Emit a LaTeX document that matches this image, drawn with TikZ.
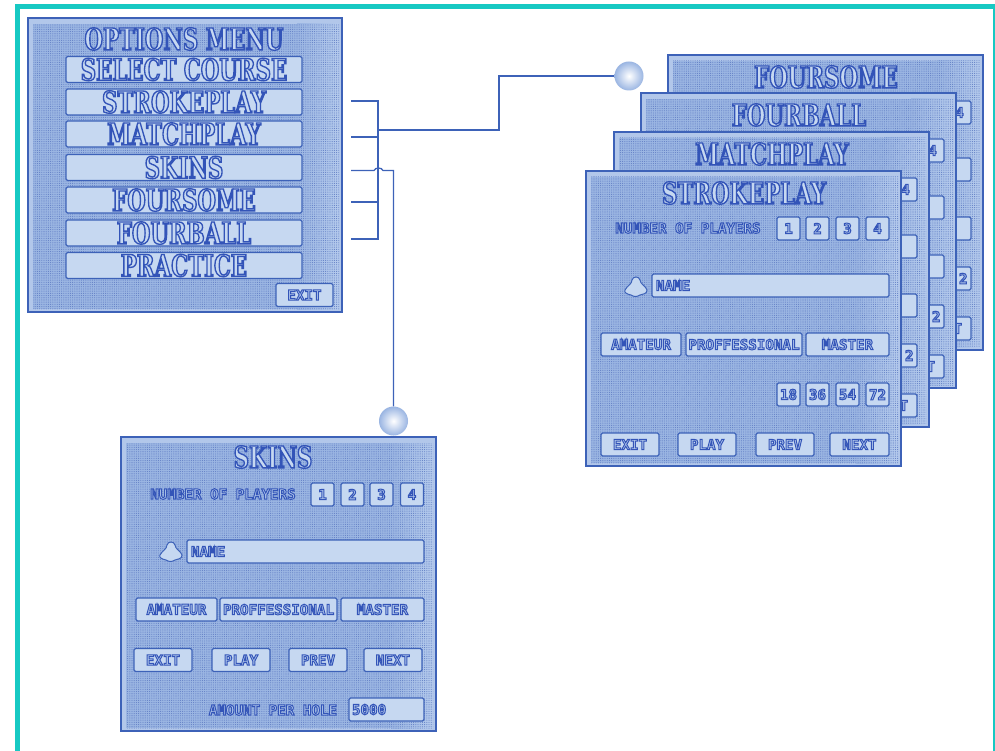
\documentclass[tikz,border=0pt]{standalone}
\usepackage{fontspec}
\usepackage{xcolor}
\newfontfamily\displayfont[FakeBold=4.5,FakeStretch=0.71]{DejaVu Serif Bold}
\newfontfamily\pixelfont[FakeBold=7]{DejaVu Sans Mono Bold}
\usetikzlibrary{arrows.meta, positioning, calc, patterns.meta}

\definecolor{framecyan}{HTML}{17C9C3}
\definecolor{inkblue}{HTML}{3D62B8}
\definecolor{sheetblue}{HTML}{9AB5E2}
\definecolor{sheetpale}{HTML}{B4CAEC}
\definecolor{bevelblue}{HTML}{B2C7EA}
\definecolor{keyblue}{HTML}{C6D8F1}

\tikzset{
    rim/.style={execute at begin node={\color{keyblue}\special{pdf:code 0.2 0.33 0.72 RG}}},
    rimsmall/.style={execute at begin node={\color{sheetpale}\special{pdf:code 0.2 0.33 0.72 RG}}},
    display/.style={inner sep=0pt, rim, font=\displayfont\fontsize{30}{30}\selectfont},
    small/.style={inner sep=0pt, rimsmall, font=\pixelfont\fontsize{14.2}{14}\selectfont},
    key/.style={small, draw=inkblue, fill=keyblue, line width=1.1pt, rounded corners=1.5pt,
        minimum height=23, anchor=center},
    numkey/.style={key, minimum width=23},
    namekey/.style={key, minimum width=237, text width=229, align=left},
    menukey/.style={key, display, minimum width=236, minimum height=26},
    wire/.style={draw=inkblue, line width=1.3pt},
    ball/.style={circle, minimum size=29, inner sep=0pt, inner color=white, outer color=sheetblue},
    bell/.pic={
        \draw[line width=1pt, draw=inkblue, fill=keyblue] (-4,-7) .. controls (-3,-11) and (3,-11) .. (4,-7)
            .. controls (4,-3) and (10,-1) .. (11,3) .. controls (11,7) and (7,7) .. (4,8)
            .. controls (1,10) and (-2,10) .. (-5,8) .. controls (-9,7) and (-12,6) .. (-11,3)
            .. controls (-9,-1) and (-4,-3) .. (-4,-7);
    }
}

\newcommand{\sheetback}[2]{
    \fill[bevelblue] (0,0) rectangle (#1,#2);
    \fill[sheetblue] (5,6) rectangle (#1-3,#2-3);
    \shade[left color=sheetblue, right color=sheetpale] (#1-45,6) rectangle (#1-3,#2-3);
    \fill[pattern={Dots[distance=2.2pt, radius=0.55pt]}, pattern color=inkblue!80] (5,6) rectangle (#1-3,#2-3);
    \draw[inkblue, line width=1.2pt] (0,0) rectangle (#1,#2);
}

\newcommand{\backsheet}[4]{
    \begin{scope}[shift={(#2,#3)}]
    \sheetback{315}{295}
    \node[display] (#1title) at (158,22) {#4};
    \node[numkey] (#1d) at (291.5,57.5) {4};
    \node[namekey] (#1name) at (184.5,114.5) {};
    \node[key, minimum width=83] (#1master) at (261.5,173.5) {};
    \node[numkey, text width=16, align=right] (#1k) at (291.5,223.5) {2};
    \node[key, minimum width=59, text width=41, align=right] (#1next) at (273.5,273.5) {T};
    \end{scope}
}

\begin{document}
\begin{tikzpicture}[x=1pt, y=-1pt]
    \useasboundingbox (0,0) rectangle (995,751);
    \fill[white] (0,0) rectangle (995,751);
    \draw[framecyan, line width=4.5pt] (17.5,751) |- (995,6.5);
    \draw[framecyan, line width=4.5pt] (995,6.5) -- (995,751);

    \begin{scope}[shift={(28,18)}]
    \sheetback{314}{294}
    \node[display] (menutitle) at (156,21) {OPTIONS MENU};
    \node[menukey] (select) at (156,51.5) {SELECT COURSE};
    \node[menukey] (stroke) at (156,84) {STROKEPLAY};
    \node[menukey] (match) at (156,116) {MATCHPLAY};
    \node[menukey] (skins) at (156,149.5) {SKINS};
    \node[menukey] (four) at (156,182) {FOURSOME};
    \node[menukey] (fourball) at (156,215) {FOURBALL};
    \node[menukey] (practice) at (156,247.5) {PRACTICE};
    \node[key, minimum width=57] (menuexit) at (276.5,277) {EXIT};
    \end{scope}

    \backsheet{fs}{668}{55}{FOURSOME}
    \backsheet{fb}{641}{93}{FOURBALL}
    \backsheet{mp}{614}{132}{MATCHPLAY}

    \begin{scope}[shift={(586,171)}]
    \sheetback{315}{295}
    \node[display] (sptitle) at (158,22) {STROKEPLAY};
    \node[small] (spcount) at (102,57) {NUMBER OF PLAYERS};
    \node[numkey] (spa) at (202.5,57.5) {1};
    \node[numkey] (spb) at (231.5,57.5) {2};
    \node[numkey] (spc) at (261.5,57.5) {3};
    \node[numkey] (spd) at (291.5,57.5) {4};
    \pic at (50,116) {bell};
    \node[namekey] (spname) at (184.5,114.5) {NAME};
    \node[key, minimum width=80] (spamateur) at (55,173.5) {AMATEUR};
    \node[key, minimum width=116] (sppro) at (158,173.5) {PROFFESSIONAL};
    \node[key, minimum width=83] (spmaster) at (261.5,173.5) {MASTER};
    \node[numkey] (sph) at (202.5,223.5) {18};
    \node[numkey] (spi) at (231.5,223.5) {36};
    \node[numkey] (spj) at (261.5,223.5) {54};
    \node[numkey] (spk) at (291.5,223.5) {72};
    \node[key, minimum width=58] (spexit) at (44,273.5) {EXIT};
    \node[key, minimum width=58] (spplay) at (121,273.5) {PLAY};
    \node[key, minimum width=58] (spprev) at (199,273.5) {PREV};
    \node[key, minimum width=59] (spnext) at (273.5,273.5) {NEXT};
    \end{scope}

    \begin{scope}[shift={(121,437)}]
    \sheetback{315}{294}
    \node[display] (sktitle) at (152,20) {SKINS};
    \node[small] (skcount) at (102,57) {NUMBER OF PLAYERS};
    \node[numkey] (ska) at (201.5,57.5) {1};
    \node[numkey] (skb) at (231.5,57.5) {2};
    \node[numkey] (skc) at (260.5,57.5) {3};
    \node[numkey] (skd) at (291,57.5) {4};
    \pic at (50,115) {bell};
    \node[namekey] (skname) at (184.5,114.5) {NAME};
    \node[key, minimum width=81] (skamateur) at (55.5,172.5) {AMATEUR};
    \node[key, minimum width=117] (skpro) at (157.5,172.5) {PROFFESSIONAL};
    \node[key, minimum width=83] (skmaster) at (261.5,172.5) {MASTER};
    \node[key, minimum width=58] (skexit) at (42,223) {EXIT};
    \node[key, minimum width=58] (skplay) at (120,223) {PLAY};
    \node[key, minimum width=58] (skprev) at (197,223) {PREV};
    \node[key, minimum width=58] (sknext) at (272,223) {NEXT};
    \node[small] (skamount) at (152,273) {AMOUNT PER HOLE};
    \node[key, minimum width=75, text width=69, align=left] (skpurse) at (265.5,272.5) {5000};
    \end{scope}

    \node[ball] (ballgroup) at (629,76) {};
    \node[ball] (ballskins) at (393.5,421) {};

    \coordinate (stubS) at (351,101);
    \coordinate (stubM) at (351,137);
    \coordinate (stubK) at (351,170.5);
    \coordinate (stubF) at (351,202);
    \coordinate (stubB) at (351,239);
    \coordinate (busS) at (378,101);
    \coordinate (busM) at (378,137);
    \coordinate (busO) at (378,130);
    \coordinate (busF) at (378,202);
    \coordinate (busB) at (378,239);
    \coordinate (riseO) at (499,130);
    \coordinate (riseT) at (499,76);
    \coordinate (hopL) at (374,170.5);
    \coordinate (hopR) at (383,170.5);
    \coordinate (turnK) at (393.5,170.5);
    \draw[wire] (stubS) -- (busS) -- (busB) -- (stubB);
    \draw[wire] (stubM) -- (busM);
    \draw[wire] (stubF) -- (busF);
    \draw[wire] (busO) -- (riseO) -- (riseT) -- (ballgroup);
    \draw[wire] (stubK) -- (hopL) to[bend left=70] (hopR) -- (turnK) -- (ballskins);
\end{tikzpicture}
\end{document}
